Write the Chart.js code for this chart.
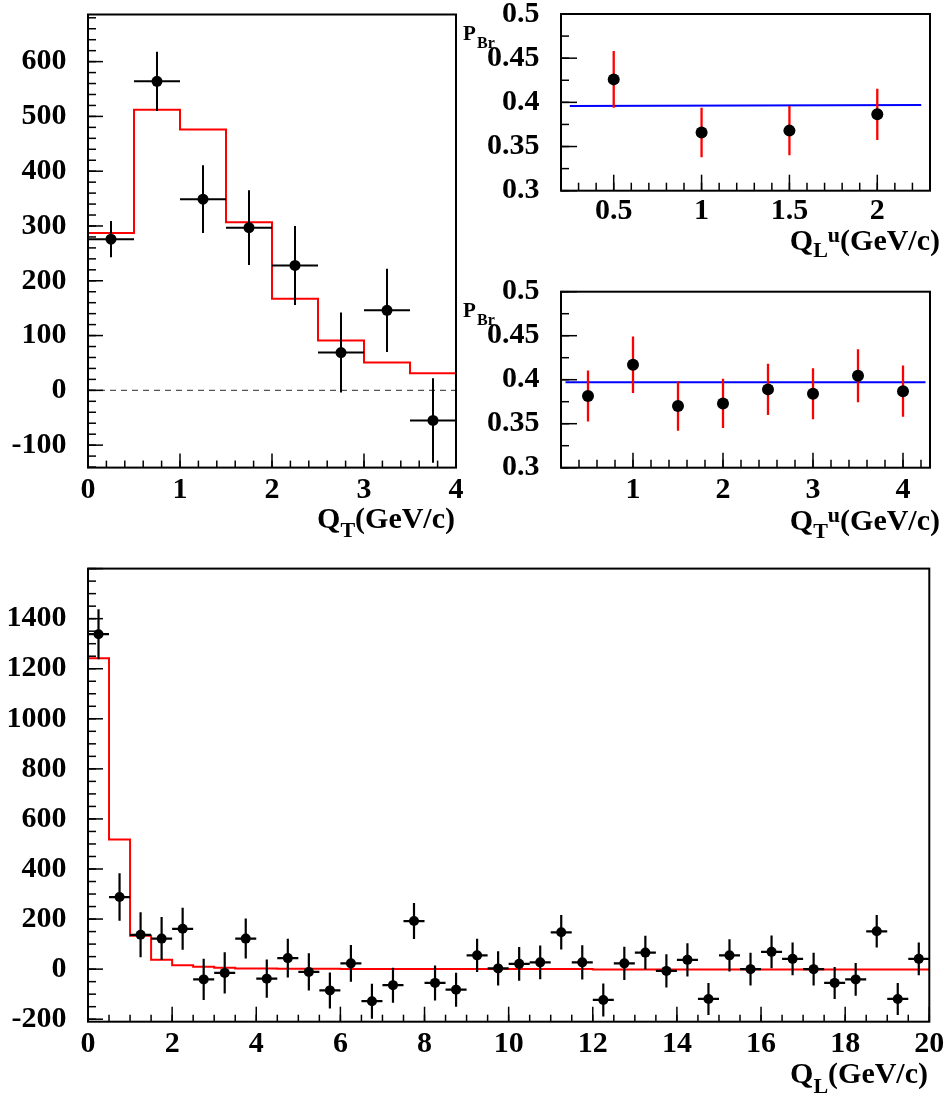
<!DOCTYPE html>
<html><head><meta charset="utf-8">
<script src="https://cdn.jsdelivr.net/npm/chart.js@4.4.1/dist/chart.umd.min.js"></script>
<style>
html,body{margin:0;padding:0;background:#fff;width:945px;height:1099px;overflow:hidden;}
canvas{position:absolute;}
</style></head><body>
<canvas id="cA" width="470" height="545" style="left:0;top:0"></canvas>
<canvas id="cB" width="485" height="265" style="left:460px;top:0"></canvas>
<canvas id="cC" width="485" height="280" style="left:460px;top:265px"></canvas>
<canvas id="cD" width="945" height="554" style="left:0;top:545px"></canvas>
<script>
// ---------- Panel A : Q_T distribution ----------
const qtEdges   = [0, 0.5, 1, 1.5, 2, 2.5, 3, 3.5, 4];
const qtCentres = [0.25, 0.75, 1.25, 1.75, 2.25, 2.75, 3.25, 3.75];
const qtCounts  = [276, 564, 349, 297, 228, 69, 146, -55];
const qtErrors  = [33, 54, 62, 68, 72, 73, 76, 77];
const qtModel   = [287, 512, 476, 307, 167, 91, 51, 31];
const aXTicks = [0, 1, 2, 3, 4];
const aXLabels = ['0', '1', '2', '3', '4'];
const aYTicks = [-100, 0, 100, 200, 300, 400, 500, 600];
const aYLabels = ['-100', '0', '100', '200', '300', '400', '500', '600'];

// ---------- Panel B : P_Br vs Q_L^u ----------
const qlU       = [0.5, 1, 1.5, 2];
const pBrQL     = [0.426, 0.366, 0.368, 0.3865];
const pBrQLErr  = [0.032, 0.028, 0.028, 0.029];
const fitQLx    = [0.25, 2.25];
const fitQLy    = [0.396, 0.397];
const bXTicks = [0.5, 1, 1.5, 2];
const bXLabels = ['0.5', '1', '1.5', '2'];
const pYTicks = [0.3, 0.35, 0.4, 0.45, 0.5];
const pYLabels = ['0.3', '0.35', '0.4', '0.45', '0.5'];

// ---------- Panel C : P_Br vs Q_T^u ----------
const qtU       = [0.5, 1, 1.5, 2, 2.5, 3, 3.5, 4];
const pBrQT     = [0.3815, 0.417, 0.370, 0.373, 0.389, 0.384, 0.4045, 0.387];
const pBrQTErr  = [0.029, 0.032, 0.028, 0.028, 0.029, 0.029, 0.030, 0.029];
const fitQTx    = [0.25, 4.25];
const fitQTy    = [0.397, 0.397];
const cXTicks = [1, 2, 3, 4];
const cXLabels = ['1', '2', '3', '4'];

// ---------- Panel D : Q_L distribution ----------
const qlEdges = [0,0.5,1,1.5,2,2.5,3,3.5,4,4.5,5,5.5,6,6.5,7,7.5,8,8.5,9,9.5,10,10.5,11,11.5,12,12.5,13,13.5,14,14.5,15,15.5,16,16.5,17,17.5,18,18.5,19,19.5,20];
const qlCentres = [0.25,0.75,1.25,1.75,2.25,2.75,3.25,3.75,4.25,4.75,5.25,5.75,6.25,6.75,7.25,7.75,8.25,8.75,9.25,9.75,10.25,10.75,11.25,11.75,12.25,12.75,13.25,13.75,14.25,14.75,15.25,15.75,16.25,16.75,17.25,17.75,18.25,18.75,19.25,19.75];
const qlCounts = [1338, 288, 137, 122, 161, -41, -15, 122, -38, 44, -11, -85, 23, -128, -64, 192, -55, -82, 55, 3, 21, 27, 147, 27, -123, 23, 66, -7, 37, -119, 55, 0, 69, 41, 0, -55, -41, 151, -119, 41];
const qlErrors = [100, 95, 90, 86, 84, 82, 82, 80, 76, 77, 74, 72, 73, 70, 70, 72, 70, 68, 66, 68, 67, 67, 69, 68, 66, 66, 67, 66, 66, 64, 64, 65, 65, 65, 65, 64, 65, 65, 64, 65];
const qlModel = [1242, 518, 133, 37, 16, 10, 6, 3, 3, 2, 2, 2, 1, 1, 1, 1, 1, 1, 1, 1, 1, 1, 1, 1, -1, -1, -1, -1, -1, -1, -1, -1, -1, -1, -1, -1, -1, -1, -1, -1];
const dXTicks = [0, 2, 4, 6, 8, 10, 12, 14, 16, 18, 20];
const dXLabels = ['0','2','4','6','8','10','12','14','16','18','20'];
const dYTicks = [-200, 0, 200, 400, 600, 800, 1000, 1200, 1400];
const dYLabels = ['-200','0','200','400','600','800','1000','1200','1400'];

// ---------- helpers ----------
const FONT = "'Liberation Serif','Times New Roman',serif";
const TICK_FONT = 30;

function stepLine(edges, vals) {
  const pts = [{x: edges[0], y: 0}];
  vals.forEach((v, i) => { pts.push({x: edges[i], y: v}); pts.push({x: edges[i + 1], y: v}); });
  pts.push({x: edges[edges.length - 1], y: 0});
  return pts;
}
function vBars(xs, ys, es) {
  const pts = [];
  xs.forEach((x, i) => { pts.push({x, y: ys[i] - es[i]}, {x, y: ys[i] + es[i]}, {x, y: null}); });
  return pts;
}
function hBars(edges, ys) {
  const pts = [];
  ys.forEach((y, i) => { pts.push({x: edges[i], y}, {x: edges[i + 1], y}, {x: edges[i], y: null}); });
  return pts;
}
function pts(xs, ys) { return xs.map((x, i) => ({x, y: ys[i]})); }

function axis(min, max, ticksArr, labelsArr, isX, size, pad) {
  return {
    type: 'linear', min, max, bounds: 'data',
    grid: {display: false, drawTicks: false, tickLength: 0}, border: {display: false},
    afterBuildTicks: s => { s.ticks = ticksArr.map(v => ({value: v})); },
    afterFit: s => {
      s.paddingTop = 0; s.paddingBottom = 0; s.paddingLeft = 0; s.paddingRight = 0;
      if (isX) s.height = size; else s.width = size;
    },
    ticks: {
      autoSkip: false, maxRotation: 0, minRotation: 0, padding: pad, color: '#000',
      font: {family: FONT, size: TICK_FONT, weight: 'bold', lineHeight: 1.2},
      callback: (v, i) => labelsArr[i]
    }
  };
}

function drawRich(ctx, segs, xRight, baseY) {
  let total = 0;
  segs.forEach(s => { ctx.font = `bold ${s.size}px ${FONT}`; s.w = ctx.measureText(s.t).width; total += s.w; });
  let x = xRight - total;
  segs.forEach(s => { ctx.font = `bold ${s.size}px ${FONT}`; ctx.fillText(s.t, x, baseY + s.dy); x += s.w; });
}

function framePlugin(cfg) {
  return {
    id: 'frame',
    afterDatasetsDraw(chart) {
      const {ctx, chartArea: a, scales: {x, y}} = chart;
      ctx.save();
      ctx.strokeStyle = '#000';
      ctx.lineWidth = 1.5;
      const tk = (scale, step, len, isX) => {
        const s = Math.ceil(scale.min / step - 1e-6), e = Math.floor(scale.max / step + 1e-6);
        for (let k = s; k <= e; k++) {
          const p = scale.getPixelForValue(k * step);
          ctx.beginPath();
          if (isX) { ctx.moveTo(p, a.bottom); ctx.lineTo(p, a.bottom - len); }
          else { ctx.moveTo(a.left, p); ctx.lineTo(a.left + len, p); }
          ctx.stroke();
        }
      };
      tk(x, cfg.xMinor, cfg.xMinorLen, true);
      tk(x, cfg.xMajor, cfg.xMajorLen, true);
      tk(y, cfg.yMinor, cfg.yMinorLen, false);
      tk(y, cfg.yMajor, cfg.yMajorLen, false);
      ctx.lineWidth = 2;
      ctx.strokeRect(a.left, a.top, a.right - a.left, a.bottom - a.top);
      ctx.fillStyle = '#000';
      ctx.textAlign = 'left';
      ctx.textBaseline = 'alphabetic';
      drawRich(ctx, cfg.title, cfg.titleX, cfg.titleY);
      if (cfg.ylab) {
        ctx.font = `bold 21px ${FONT}`;
        ctx.fillText('P', cfg.ylab.x, cfg.ylab.y);
        ctx.font = `bold 16px ${FONT}`;
        ctx.fillText('Br', cfg.ylab.x + 14, cfg.ylab.y + 8);
      }
      ctx.restore();
    }
  };
}

function baseOptions(pad, xAxis, yAxis) {
  return {
    responsive: false, animation: false, events: [],
    layout: {padding: pad},
    plugins: {legend: {display: false}, tooltip: {enabled: false}},
    scales: {x: xAxis, y: yAxis}
  };
}

function markers(data, r) {
  return {type: 'scatter', data, showLine: false, pointRadius: r, pointBackgroundColor: '#000',
          pointBorderColor: '#000', pointBorderWidth: 0, pointStyle: 'circle'};
}
function lineSet(data, color, width, extra) {
  return Object.assign({type: 'line', data, showLine: true, borderColor: color, borderWidth: width,
          pointRadius: 0, fill: false, spanGaps: false, tension: 0, borderCapStyle: 'butt'}, extra || {});
}

const SUB = 22;

// ---------- Panel A ----------
new Chart(document.getElementById('cA'), {
  type: 'scatter',
  data: {datasets: [
    markers(pts(qtCentres, qtCounts), 5.5),
    lineSet(vBars(qtCentres, qtCounts, qtErrors), '#000', 2),
    lineSet(hBars(qtEdges, qtCounts), '#000', 2),
    lineSet(stepLine(qtEdges, qtModel), '#ff0000', 2),
    lineSet([{x: 0, y: 0}, {x: 4, y: 0}], '#555', 1.3, {borderDash: [6, 5]})
  ]},
  options: baseOptions({left: 0, top: 14.5, right: 14, bottom: 0},
    axis(0, 4, aXTicks, aXLabels, true, 77.4, 5),
    axis(-141, 686, aYTicks, aYLabels, false, 88, 21.5)),
  plugins: [framePlugin({xMinor: 0.2, xMinorLen: 7, xMajor: 1, xMajorLen: 14,
    yMinor: 20, yMinorLen: 8, yMajor: 100, yMajorLen: 15,
    title: [{t: 'Q', size: 30, dy: 0}, {t: 'T', size: SUB, dy: 8.5}, {t: '(GeV/c)', size: 30, dy: 0}],
    titleX: 455, titleY: 528})]
});

// ---------- Panel B ----------
new Chart(document.getElementById('cB'), {
  type: 'scatter',
  data: {datasets: [
    markers(pts(qlU, pBrQL), 6),
    lineSet(vBars(qlU, pBrQL, pBrQLErr), '#ff0000', 2.3),
    lineSet(pts(fitQLx, fitQLy), '#0000ff', 2)
  ]},
  options: baseOptions({left: 0, top: 14, right: 15, bottom: 0},
    axis(0.2, 2.3, bXTicks, bXLabels, true, 74.3, 3),
    axis(0.3, 0.5, pYTicks, pYLabels, false, 101, 21.5)),
  plugins: [framePlugin({xMinor: 0.1, xMinorLen: 8, xMajor: 0.5, xMajorLen: 16,
    yMinor: 0.025, yMinorLen: 8, yMajor: 0.05, yMajorLen: 16,
    title: [{t: 'Q', size: 30, dy: 0}, {t: 'L', size: SUB, dy: 7}, {t: 'u', size: SUB, dy: -8}, {t: '(GeV/c)', size: 30, dy: 0}],
    titleX: 480, titleY: 250, ylab: {x: 3, y: 40}})]
});

// ---------- Panel C ----------
new Chart(document.getElementById('cC'), {
  type: 'scatter',
  data: {datasets: [
    markers(pts(qtU, pBrQT), 6),
    lineSet(vBars(qtU, pBrQT, pBrQTErr), '#ff0000', 2.3),
    lineSet(pts(fitQTx, fitQTy), '#0000ff', 2)
  ]},
  options: baseOptions({left: 0, top: 26.7, right: 15, bottom: 0},
    axis(0.2, 4.3, cXTicks, cXLabels, true, 77.3, 4.3),
    axis(0.3, 0.5, pYTicks, pYLabels, false, 101, 21.5)),
  plugins: [framePlugin({xMinor: 0.2, xMinorLen: 8, xMajor: 1, xMajorLen: 15,
    yMinor: 0.025, yMinorLen: 8, yMajor: 0.05, yMajorLen: 16,
    title: [{t: 'Q', size: 30, dy: 0}, {t: 'T', size: SUB, dy: 7.5}, {t: 'u', size: SUB, dy: -8}, {t: '(GeV/c)', size: 30, dy: 0}],
    titleX: 480, titleY: 265, ylab: {x: 3, y: 52}})]
});

// ---------- Panel D ----------
new Chart(document.getElementById('cD'), {
  type: 'scatter',
  data: {datasets: [
    markers(pts(qlCentres, qlCounts), 5),
    lineSet(vBars(qlCentres, qlCounts, qlErrors), '#000', 2.2),
    lineSet(hBars(qlEdges, qlCounts), '#000', 2.2),
    lineSet(stepLine(qlEdges, qlModel), '#ff0000', 2)
  ]},
  options: baseOptions({left: 0, top: 23.6, right: 15.7, bottom: 0},
    axis(0, 20, dXTicks, dXLabels, true, 77.3, 4.8),
    axis(-210, 1600, dYTicks, dYLabels, false, 88, 21.5)),
  plugins: [framePlugin({xMinor: 0.5, xMinorLen: 7, xMajor: 2, xMajorLen: 15,
    yMinor: 50, yMinorLen: 8, yMajor: 200, yMajorLen: 15,
    title: [{t: 'Q', size: 30, dy: 0}, {t: 'L', size: SUB, dy: 10}, {t: '(GeV/c)', size: 30, dy: 0}],
    titleX: 928, titleY: 538})]
});
</script>
</body></html>
